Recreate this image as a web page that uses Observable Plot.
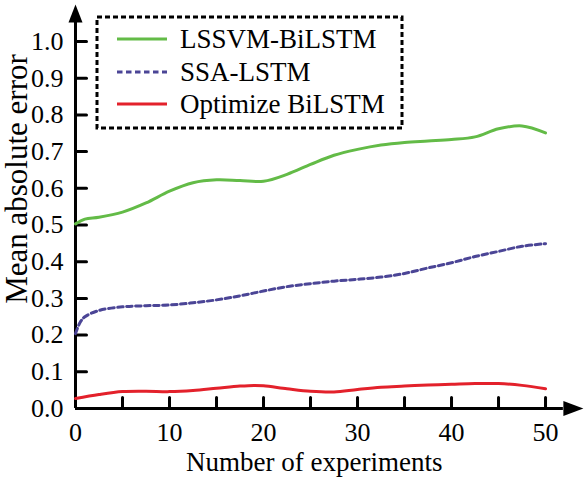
<!DOCTYPE html>
<html><head><meta charset="utf-8">
<script src="https://cdn.jsdelivr.net/npm/d3@7"></script>
<script src="https://cdn.jsdelivr.net/npm/@observablehq/plot@0.6"></script>
<style>body{margin:0;background:#fff}#chart{width:584px;height:477px}</style>
</head><body><div id="chart"></div>
<script>
// ---- data ----
const seriesNames = ["LSSVM-BiLSTM", "SSA-LSTM", "Optimize BiLSTM"];
const seriesColors = ["#63bb47", "#4b4596", "#e3212b"];
const seriesDash = [null, "5.5,3.5", null];

const lssvmX = [0, 1, 2.5, 5, 7.5, 10, 12.5, 15, 17.5, 20, 22.5, 25, 27.5, 30, 32.5, 35, 37.5, 40, 42.5, 45, 47.5, 50];
const lssvmY = [0.503, 0.516, 0.521, 0.535, 0.56, 0.592, 0.615, 0.623, 0.621, 0.619, 0.638, 0.665, 0.69, 0.706, 0.718, 0.725, 0.729, 0.733, 0.740, 0.762, 0.770, 0.751];

const ssaX = [0, 0.5, 1, 2.5, 5, 7.5, 10, 12.5, 15, 17.5, 20, 22.5, 25, 27.5, 30, 32.5, 35, 37.5, 40, 42.5, 45, 47.5, 50];
const ssaY = [0.204, 0.235, 0.25, 0.267, 0.277, 0.28, 0.282, 0.288, 0.296, 0.307, 0.32, 0.332, 0.34, 0.347, 0.352, 0.358, 0.368, 0.383, 0.397, 0.414, 0.428, 0.442, 0.449];

const optX = [0, 2.5, 5, 7.5, 10, 12.5, 15, 17.5, 19, 20, 22.5, 25, 27.5, 30, 32.5, 35, 37.5, 40, 42.5, 45, 47.5, 50];
const optY = [0.027, 0.038, 0.046, 0.047, 0.046, 0.049, 0.055, 0.061, 0.063, 0.062, 0.054, 0.047, 0.045, 0.052, 0.058, 0.061, 0.064, 0.066, 0.068, 0.068, 0.063, 0.054];

const xTickLabels = [0, 10, 20, 30, 40, 50];
const xTickMarks = [5, 10, 15, 20, 25, 30, 35, 40, 45, 50];
const yTickLabels = [0, 0.1, 0.2, 0.3, 0.4, 0.5, 0.6, 0.7, 0.8, 0.9, 1.0];
const yTickMarks = [0.1, 0.2, 0.3, 0.4, 0.5, 0.6, 0.7, 0.8, 0.9, 1.0];
const xLabel = "Number of experiments";
const yLabel = "Mean absolute error";

// ---- build ----
const xs = [lssvmX, ssaX, optX], ys = [lssvmY, ssaY, optY];
const series = seriesNames.map((name, i) => xs[i].map((x, j) => ({series: name, x, y: ys[i][j]})));

const FONT = "'Liberation Serif', 'Times New Roman', serif";
const xMax = 54.04, yMax = 1.098;        // axis extent incl. arrow heads
const xArrowBase = 51.9, yArrowBase = 1.052;

const tickShape = {draw(ctx, l) { ctx.moveTo(0, 0); ctx.lineTo(0, -l); }};

const marks = [
  Plot.axisX(xTickLabels, {tickSize: 0, tickPadding: 14, fontSize: 26, label: null}),
  Plot.axisY(yTickLabels, {tickSize: 0, tickPadding: 12, fontSize: 26, label: null, tickFormat: d => d.toFixed(1)}),
  Plot.ruleX([0], {y1: 0, y2: yArrowBase, stroke: "#000", strokeWidth: 3}),
  Plot.ruleY([0], {x1: 0, x2: xArrowBase, stroke: "#000", strokeWidth: 3}),
  Plot.vector([0], {x: 0, y: yArrowBase, length: 18, r: 7, rotate: 0, anchor: "start", shape: "spike", fill: "#000", stroke: "none"}),
  Plot.vector([0], {x: xArrowBase, y: 0, length: 20, r: 7.5, rotate: 90, anchor: "start", shape: "spike", fill: "#000", stroke: "none"}),
  Plot.vector(xTickMarks, {x: d => d, y: 0, length: 11, rotate: 0, anchor: "start", shape: tickShape, stroke: "#000", strokeWidth: 3}),
  Plot.vector(yTickMarks, {x: 0, y: d => d, length: 11, rotate: 90, anchor: "start", shape: tickShape, stroke: "#000", strokeWidth: 3}),
  Plot.text([xLabel], {x: 25.4, frameAnchor: "bottom", dy: 54, textAnchor: "middle", lineAnchor: "middle", fontSize: 27, fill: "#000"}),
  Plot.text([yLabel], {frameAnchor: "left", dx: -58, dy: -28, rotate: -90, textAnchor: "middle", lineAnchor: "middle", fontSize: 31, fill: "#000"})
];
series.forEach((d, i) => {
  marks.push(Plot.line(d, {x: "x", y: "y", stroke: seriesColors[i], strokeWidth: 3, curve: "catmull-rom", strokeDasharray: seriesDash[i] || undefined}));
});

const plot = Plot.plot({
  width: 584, height: 477,
  marginLeft: 75, marginRight: 1, marginTop: 5, marginBottom: 69,
  style: {fontFamily: FONT, fontSize: "26px", color: "#000", background: "#fff", overflow: "visible"},
  x: {domain: [0, xMax]},
  y: {domain: [0, yMax]},
  marks
});
document.getElementById("chart").appendChild(plot);

// ---- legend (inside the plot area) ----
const svg = d3.select(plot);
const lg = svg.append("g").attr("font-family", FONT).attr("font-size", 27).attr("text-anchor", "start");
lg.append("rect").attr("x", 97).attr("y", 17).attr("width", 305).attr("height", 111)
  .attr("fill", "#fff").attr("stroke", "#000").attr("stroke-width", 3).attr("stroke-dasharray", "5,3");
const rowY = [39, 72, 104];
seriesNames.forEach((name, i) => {
  lg.append("line").attr("x1", 117).attr("x2", 167).attr("y1", rowY[i]).attr("y2", rowY[i])
    .attr("stroke", seriesColors[i]).attr("stroke-width", 3).attr("stroke-dasharray", seriesDash[i]);
  lg.append("text").attr("x", 180).attr("y", rowY[i]).attr("dy", "0.34em").attr("fill", "#000")
    .attr("text-anchor", "start").text(name);
});
</script>
</body></html>
